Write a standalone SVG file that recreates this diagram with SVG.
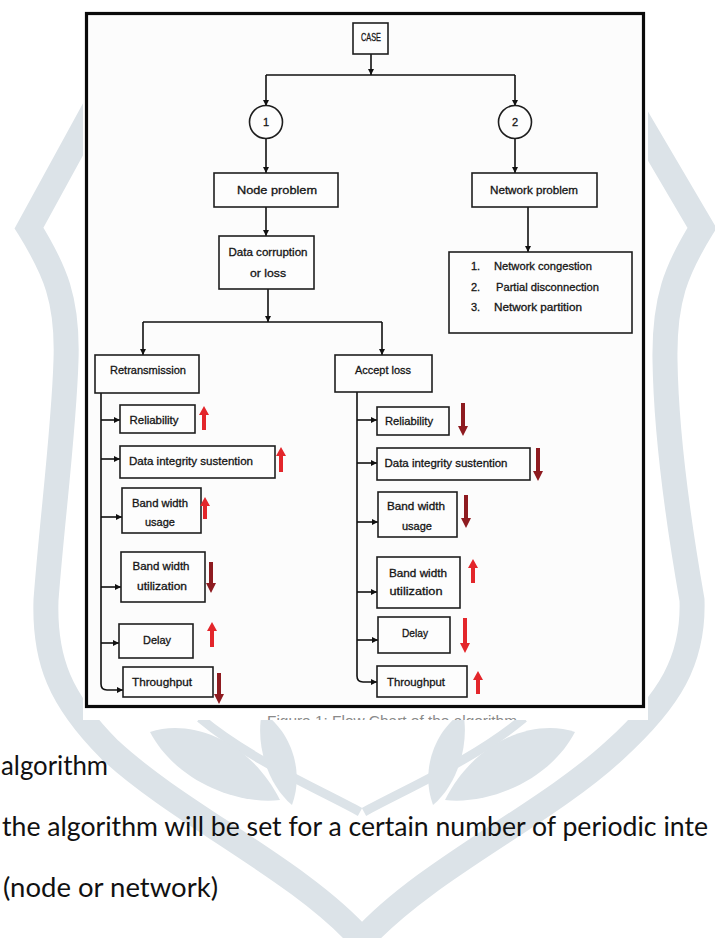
<svg xmlns="http://www.w3.org/2000/svg" width="715" height="938" viewBox="0 0 715 938">
<defs>
<style>
.wm{fill:none;stroke:#dce3e8;stroke-linejoin:miter;stroke-linecap:butt}
.leaf{fill:#dce3e8}
.box{fill:#fdfdfd;stroke:#1e1e1e;stroke-width:1.6}
.t{font-family:"Liberation Sans",Arial,sans-serif;font-size:11px;fill:#151515;stroke:#151515;stroke-width:0.3;text-anchor:middle}
.tl{font-family:"Liberation Sans",Arial,sans-serif;font-size:11px;fill:#151515;stroke:#151515;stroke-width:0.3}
.c{fill:none;stroke:#111;stroke-width:1.6}
.up{fill:#e3262b}
.dn{fill:#8e1b20}
.dnb{fill:#e3262b}
.body{font-family:Lato,"Open Sans",sans-serif;font-size:27px;fill:#111}
</style>
<marker id="ah" viewBox="0 0 10 10" refX="10" refY="5" markerWidth="6" markerHeight="6" orient="auto" markerUnits="userSpaceOnUse">
<path d="M0,0 L10,5 L0,10 z" fill="#111"/>
</marker>
<clipPath id="capclip"><rect x="83" y="708" width="564" height="12"/></clipPath>
</defs>
<rect x="0" y="0" width="715" height="938" fill="#ffffff"/>
<g id="watermark">
<path class="wm" stroke-width="25" d="M110,80 L29,228 C55,270 68,300 66,360 C64,430 52,520 46,600 C44,660 60,700 110,750 C180,815 300,870 362,940"/>
<path class="wm" stroke-width="25" d="M615,80 L702,228 C676,270 664,300 665,360 C666,430 678,520 692,600 C694,660 670,700 615,750 C545,815 425,870 362,940"/>
<path class="wm" stroke-width="9" d="M360,812 C320,790 250,760 200,718"/>
<path class="wm" stroke-width="9" d="M364,812 C404,790 474,760 524,718"/>
<path class="leaf" d="M150,732 C190,718 250,740 280,800 C235,805 175,780 150,732 z"/>
<path class="leaf" d="M262,712 C290,730 305,770 292,805 C268,785 255,745 262,712 z"/>
<path class="leaf" d="M575,732 C535,718 475,740 445,800 C490,805 550,780 575,732 z"/>
<path class="leaf" d="M463,712 C435,730 420,770 433,805 C457,785 470,745 463,712 z"/>
</g>
<rect x="83" y="9" width="565" height="711" fill="#ffffff"/>
<rect x="86.5" y="13.5" width="557" height="693" fill="#fcfcfc" stroke="#0a0a0a" stroke-width="3.2"/>
<g clip-path="url(#capclip)">
<text x="267" y="726" font-family="Liberation Sans,Arial,sans-serif" font-size="15" fill="#8a8a8a" textLength="250" lengthAdjust="spacingAndGlyphs">Figure 1: Flow Chart of the algorithm</text>
</g>
<g id="connectors">
<path class="c" d="M371,54 V75" marker-end="url(#ah)"/>
<path class="c" d="M266,75 H515"/>
<path class="c" d="M266,75 V106" marker-end="url(#ah)"/>
<path class="c" d="M515,75 V106" marker-end="url(#ah)"/>
<path class="c" d="M266,139 V173" marker-end="url(#ah)"/>
<path class="c" d="M515,139 V173" marker-end="url(#ah)"/>
<path class="c" d="M266,207 V236" marker-end="url(#ah)"/>
<path class="c" d="M528,207 V252" marker-end="url(#ah)"/>
<path class="c" d="M268,289 V322" marker-end="url(#ah)"/>
<path class="c" d="M143,322 H382"/>
<path class="c" d="M143,322 V355" marker-end="url(#ah)"/>
<path class="c" d="M382,322 V355" marker-end="url(#ah)"/>
<path class="c" d="M101,393 V684 Q101,690 107,690 H123" marker-end="url(#ah)"/>
<path class="c" d="M101,420 H120" marker-end="url(#ah)"/>
<path class="c" d="M101,459 H120" marker-end="url(#ah)"/>
<path class="c" d="M101,517 H122" marker-end="url(#ah)"/>
<path class="c" d="M101,587 H121" marker-end="url(#ah)"/>
<path class="c" d="M101,643 H119" marker-end="url(#ah)"/>
<path class="c" d="M357,392 V676 Q357,682 363,682 H377" marker-end="url(#ah)"/>
<path class="c" d="M357,420 H377" marker-end="url(#ah)"/>
<path class="c" d="M357,463 H377" marker-end="url(#ah)"/>
<path class="c" d="M357,522 H378" marker-end="url(#ah)"/>
<path class="c" d="M357,592 H377" marker-end="url(#ah)"/>
<path class="c" d="M357,640 H378" marker-end="url(#ah)"/>
</g>
<g id="case"><rect class="box" x="353" y="23" width="35" height="31"/><text class="t" x="371" y="41" font-size="7" textLength="20" lengthAdjust="spacingAndGlyphs">CASE</text></g>
<g id="c1"><circle class="box" cx="266" cy="122" r="16.5"/><text class="t" x="266" y="126" font-size="12">1</text></g>
<g id="c2"><circle class="box" cx="515" cy="122" r="16.5"/><text class="t" x="515" y="126" font-size="12">2</text></g>
<g id="node-problem"><rect class="box" x="214" y="173" width="124" height="34"/><text class="t" x="277" y="194" font-size="12" textLength="80" lengthAdjust="spacingAndGlyphs">Node problem</text></g>
<g id="network-problem"><rect class="box" x="472" y="173" width="125" height="34"/><text class="t" x="534" y="194" font-size="12" textLength="88" lengthAdjust="spacingAndGlyphs">Network problem</text></g>
<g id="data-corruption"><rect class="box" x="219" y="236" width="95" height="53"/><text class="t" x="268" y="256" font-size="12" textLength="79" lengthAdjust="spacingAndGlyphs">Data corruption</text><text class="t" x="268" y="277" font-size="12" textLength="36" lengthAdjust="spacingAndGlyphs">or loss</text></g>
<g id="network-list"><rect class="box" x="449" y="252" width="183" height="81"/>
<text class="tl" x="471" y="270">1.</text><text class="tl" x="494" y="270" textLength="98" lengthAdjust="spacingAndGlyphs">Network congestion</text>
<text class="tl" x="471" y="291">2.</text><text class="tl" x="496" y="291" textLength="103" lengthAdjust="spacingAndGlyphs">Partial disconnection</text>
<text class="tl" x="471" y="311">3.</text><text class="tl" x="494" y="311" textLength="88" lengthAdjust="spacingAndGlyphs">Network partition</text></g>
<g id="retransmission"><rect class="box" x="95" y="355" width="104" height="38"/><text class="t" x="148" y="374" textLength="76" lengthAdjust="spacingAndGlyphs">Retransmission</text></g>
<g id="accept-loss"><rect class="box" x="335" y="355" width="97" height="37"/><text class="t" x="383" y="374" textLength="56" lengthAdjust="spacingAndGlyphs">Accept loss</text></g>
<g id="r-reliability"><rect class="box" x="120" y="405" width="75" height="28"/><text class="t" x="154" y="424" textLength="49" lengthAdjust="spacingAndGlyphs">Reliability</text><path class="up" d="M204,406 L209,415 L206,415 L206,430 L202,430 L202,415 L199,415 z"/></g>
<g id="r-integrity"><rect class="box" x="120" y="446" width="155" height="32"/><text class="t" x="191" y="465" textLength="124" lengthAdjust="spacingAndGlyphs">Data integrity sustention</text><path class="up" d="M281,447 L286,456 L283,456 L283,472 L279,472 L279,456 L276,456 z"/></g>
<g id="r-usage"><rect class="box" x="122" y="488" width="79" height="45"/><text class="t" x="160" y="507" textLength="56" lengthAdjust="spacingAndGlyphs">Band width</text><text class="t" x="160" y="526" textLength="30" lengthAdjust="spacingAndGlyphs">usage</text><path class="up" d="M205,497 L210,506 L207,506 L207,519 L203,519 L203,506 L200,506 z"/></g>
<g id="r-utilization"><rect class="box" x="121" y="552" width="84" height="50"/><text class="t" x="161" y="570" textLength="57" lengthAdjust="spacingAndGlyphs">Band width</text><text class="t" x="162" y="590" textLength="50" lengthAdjust="spacingAndGlyphs">utilization</text><path class="dn" d="M211,593 L216,583 L213,583 L213,562 L209,562 L209,583 L206,583 z"/></g>
<g id="r-delay"><rect class="box" x="119" y="624" width="74" height="34"/><text class="t" x="157" y="644" textLength="28" lengthAdjust="spacingAndGlyphs">Delay</text><path class="up" d="M212,622 L217,631 L214,631 L214,647 L210,647 L210,631 L207,631 z"/></g>
<g id="r-throughput"><rect class="box" x="123" y="667" width="90" height="30"/><text class="t" x="162" y="686" textLength="60" lengthAdjust="spacingAndGlyphs">Throughput</text><path class="dn" d="M219,704 L224,694 L221,694 L221,673 L217,673 L217,694 L214,694 z"/></g>
<g id="a-reliability"><rect class="box" x="377" y="407" width="72" height="28"/><text class="t" x="409" y="425" textLength="48" lengthAdjust="spacingAndGlyphs">Reliability</text><path class="dn" d="M463,436 L468,426 L465,426 L465,403 L461,403 L461,426 L458,426 z"/></g>
<g id="a-integrity"><rect class="box" x="377" y="448" width="153" height="32"/><text class="t" x="446" y="467" textLength="123" lengthAdjust="spacingAndGlyphs">Data integrity sustention</text><path class="dn" d="M538,481 L543,471 L540,471 L540,448 L536,448 L536,471 L533,471 z"/></g>
<g id="a-usage"><rect class="box" x="378" y="492" width="79" height="45"/><text class="t" x="416" y="510" textLength="58" lengthAdjust="spacingAndGlyphs">Band width</text><text class="t" x="417" y="530" textLength="30" lengthAdjust="spacingAndGlyphs">usage</text><path class="dn" d="M466,528 L471,518 L468,518 L468,495 L464,495 L464,518 L461,518 z"/></g>
<g id="a-utilization"><rect class="box" x="377" y="557" width="83" height="51"/><text class="t" x="418" y="577" textLength="58" lengthAdjust="spacingAndGlyphs">Band width</text><text class="t" x="416" y="595" textLength="53" lengthAdjust="spacingAndGlyphs">utilization</text><path class="up" d="M473,559 L478,568 L475,568 L475,583 L471,583 L471,568 L468,568 z"/></g>
<g id="a-delay"><rect class="box" x="378" y="617" width="72" height="36"/><text class="t" x="415" y="637" textLength="26" lengthAdjust="spacingAndGlyphs">Delay</text><path class="dnb" d="M465,653 L470,643 L467,643 L467,618 L463,618 L463,643 L460,643 z"/></g>
<g id="a-throughput"><rect class="box" x="377" y="666" width="90" height="31"/><text class="t" x="416" y="686" textLength="58" lengthAdjust="spacingAndGlyphs">Throughput</text><path class="up" d="M478,671 L483,680 L480,680 L480,694 L476,694 L476,680 L473,680 z"/></g>
<g id="body-text">
<text class="body" x="1" y="775" textLength="107" lengthAdjust="spacingAndGlyphs">algorithm</text>
<text class="body" x="2" y="836" textLength="706" lengthAdjust="spacingAndGlyphs">the algorithm will be set for a certain number of periodic inte</text>
<text class="body" x="3" y="897" textLength="215" lengthAdjust="spacingAndGlyphs">(node or network)</text>
</g>
</svg>
